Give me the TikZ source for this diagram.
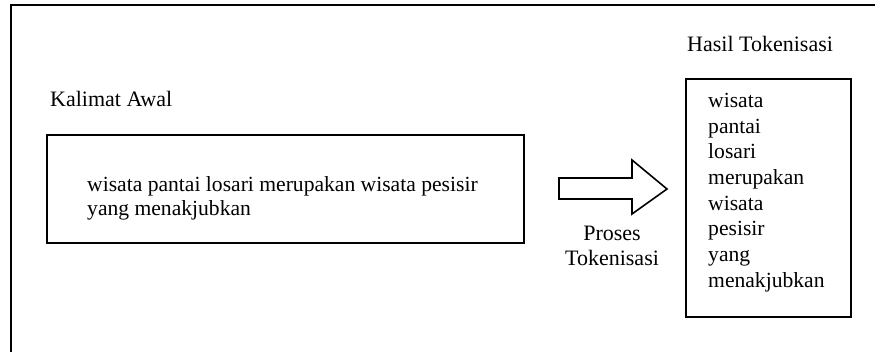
\documentclass[tikz,border=0pt]{standalone}
\usepackage{fontspec}
\setmainfont{Liberation Serif}
\begin{document}
\begin{tikzpicture}[x=1pt,y=-1pt,
  frame/.style={draw, line width=1.6pt},
  box/.style={draw, line width=1.6pt, inner sep=0pt},
  body/.style={inner sep=0pt, anchor=base west, font=\fontsize{21.6}{24}\selectfont},
  token/.style={inner sep=0pt, anchor=base west, font=\fontsize{21.6}{24}\selectfont},
  label text/.style={inner sep=0pt, font=\fontsize{22}{26}\selectfont}]
\useasboundingbox (0,0) rectangle (875,351);
\clip (0,0) rectangle (875,351);
% outer frame (runs past the right and bottom edges)
\draw[frame] (11,5) rectangle (900,400);
% input sentence
\node[label text, anchor=base west] (lbl1) at (50,106) {Kalimat Awal};
\node[box, minimum width=477pt, minimum height=108pt] (input) at (285.5,189) {};
\node[body] (sent1) at (87,191.7) {wisata pantai losari merupakan wisata pesisir};
\node[body] (sent2) at (87,215) {yang menakjubkan};
% process arrow
\draw[line width=1.6pt, line join=miter]
  (559,178) -- (632,178) -- (632,160) -- (667,189) -- (632,214) -- (632,199) -- (559,199) -- cycle;
\node[label text, anchor=base] (proc1) at (612,240.5) {Proses};
\node[label text, anchor=base] (proc2) at (612,265) {Tokenisasi};
% tokens
\node[label text, anchor=base west] (lbl2) at (687,51.7) {Hasil Tokenisasi};
\node[box, minimum width=165pt, minimum height=238pt] (output) at (768.5,198) {};
\foreach \w [count=\i] in {wisata,pantai,losari,merupakan,wisata,pesisir,yang,menakjubkan}
  \node[token] (tok\i) at (708,{107.3+25.7*(\i-1)}) {\w};
\end{tikzpicture}
\end{document}
